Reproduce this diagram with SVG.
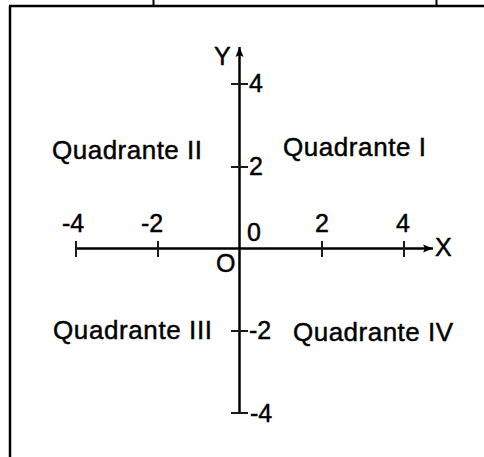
<svg xmlns="http://www.w3.org/2000/svg" width="484" height="457" viewBox="0 0 484 457">
<style>
.ln{stroke:#000;fill:none}
.ax{stroke:#000;stroke-width:2.5;fill:none}
.tk{stroke:#1a1a1a;stroke-width:2;fill:none}
text{font-family:"Liberation Sans",Arial,sans-serif;fill:#000;stroke:#000;stroke-width:0.45}
.q{font-size:26px}
.n{font-size:25px}
</style>
<defs>
<marker id="ah" viewBox="0 0 10 10" refX="10" refY="5" markerWidth="4" markerHeight="4" orient="auto" markerUnits="strokeWidth">
<path d="M0,1 L10,5 L0,9 L2,5 Z" fill="#000"/>
</marker>
</defs>
<g id="frame">
<line class="ln" stroke-width="2.5" x1="10" y1="6" x2="10" y2="457"/>
<line class="ln" stroke-width="2.5" x1="9" y1="6" x2="484" y2="6"/>
<line class="ln" stroke-width="2" x1="153.5" y1="0" x2="153.5" y2="6"/>
<line class="ln" stroke-width="2" x1="436.5" y1="0" x2="436.5" y2="6"/>
</g>
<g id="connectors">
<line id="x-axis" class="ax" x1="75" y1="248.5" x2="433" y2="248.5" marker-end="url(#ah)"/>
<line id="y-axis" class="ax" x1="239.5" y1="413" x2="239.5" y2="47" marker-end="url(#ah)"/>
<g id="ticks">
<line class="tk" x1="76" y1="241" x2="76" y2="257"/>
<line class="tk" x1="158" y1="241" x2="158" y2="257"/>
<line class="tk" x1="322" y1="241" x2="322" y2="257"/>
<line class="tk" x1="404" y1="241" x2="404" y2="257"/>
<line class="tk" x1="231" y1="84" x2="248" y2="84"/>
<line class="tk" x1="231" y1="167" x2="248" y2="167"/>
<line class="tk" x1="231" y1="331" x2="248" y2="331"/>
<line class="tk" x1="231" y1="413" x2="248" y2="413"/>
</g>
</g>
<g id="axis-labels">
<text id="label-Y" class="n" x="214" y="65">Y</text>
<text id="label-X" class="n" x="435" y="256">X</text>
<text id="label-O" class="n" x="216" y="272">O</text>
<text id="label-0" class="n" x="247" y="241">0</text>
</g>
<g id="x-numbers">
<text class="n" x="62" y="232">-4</text>
<text class="n" x="141" y="232">-2</text>
<text class="n" x="315" y="232">2</text>
<text class="n" x="396" y="232">4</text>
</g>
<g id="y-numbers">
<text class="n" x="249" y="92">4</text>
<text class="n" x="249" y="175">2</text>
<text class="n" x="249" y="339">-2</text>
<text class="n" x="250" y="422">-4</text>
</g>
<g id="quadrant-I"><text class="q" x="283" y="156" textLength="143" lengthAdjust="spacing">Quadrante I</text></g>
<g id="quadrant-II"><text class="q" x="52" y="159" textLength="150" lengthAdjust="spacing">Quadrante II</text></g>
<g id="quadrant-III"><text class="q" x="53" y="339" textLength="159" lengthAdjust="spacing">Quadrante III</text></g>
<g id="quadrant-IV"><text class="q" x="293" y="341" textLength="160" lengthAdjust="spacing">Quadrante IV</text></g>
</svg>
